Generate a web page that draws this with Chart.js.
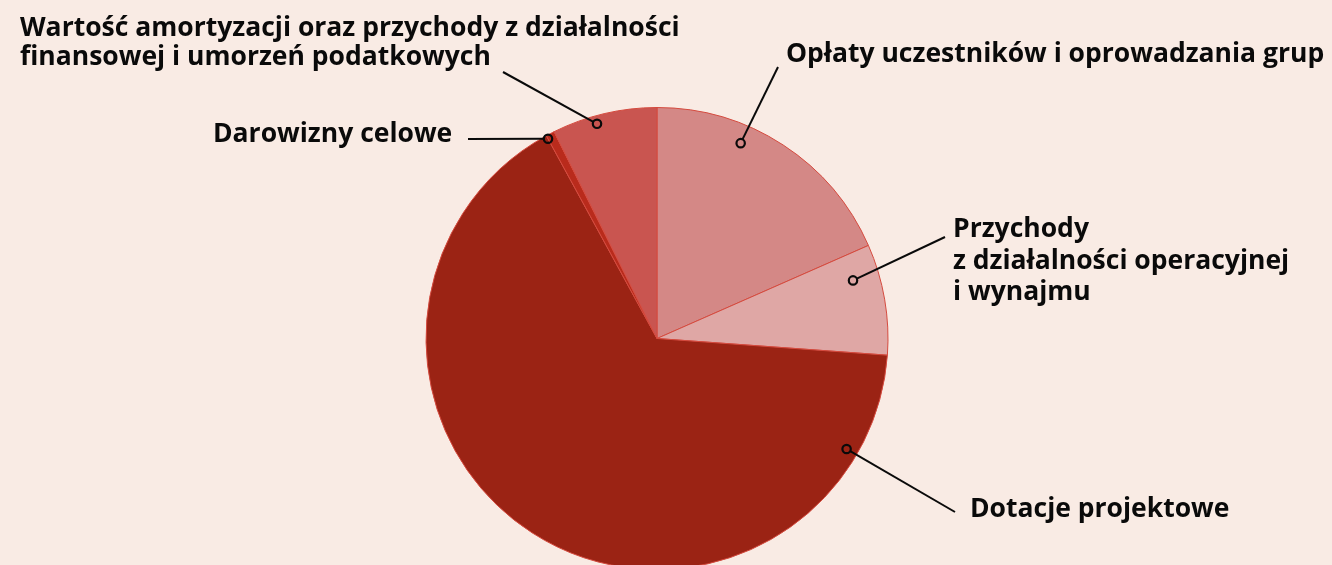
<!DOCTYPE html>
<html>
<head>
<meta charset="utf-8">
<script src="https://cdn.jsdelivr.net/npm/chart.js@4/dist/chart.umd.min.js"></script>
<style>
  html, body { margin: 0; padding: 0; background: #f9ebe4; overflow: hidden; width: 1332px; height: 565px; }
  #wrap { position: absolute; left: 0; top: 0; width: 1332px; height: 620px; }
</style>
</head>
<body>
<div id="wrap"><canvas id="c"></canvas></div>
<script>
// Data
const categories = [
  "Opłaty uczestników i oprowadzania grup",
  "Przychody z działalności operacyjnej i wynajmu",
  "Dotacje projektowe",
  "Darowizny celowe",
  "Wartość amortyzacji oraz przychody z działalności finansowej i umorzeń podatkowych"
];
const values = [18.4, 7.75, 65.9, 0.6, 7.35];
const colors = ["#d48886", "#dfa7a5", "#9b2314", "#b92b1c", "#c95550"];

// Label display text (lines)
const labelLines = [
  ["Opłaty uczestników i oprowadzania grup"],
  ["Przychody", "z działalności operacyjnej", "i wynajmu"],
  ["Dotacje projektowe"],
  ["Darowizny celowe"],
  ["Wartość amortyzacji oraz przychody z działalności", "finansowej i umorzeń podatkowych"]
];

// Layout for callouts: anchor fraction along slice angle, radius fraction, line end, text position
const callouts = [
  { t: 0.35, r: 0.92, lineEnd: [778, 67], text: [786, 62], lh: 30 },
  { t: 0.26, r: 0.885, lineEnd: [945, 237], text: [953, 237], lh: 31.5 },
  { t: 0.11, r: 0.95, lineEnd: [955, 512], text: [970, 517], lh: 30 },
  { t: 0.0, r: 0.985, lineEnd: [468, 139], text: [213, 142], lh: 30 },
  { t: 0.41, r: 0.965, lineEnd: [503, 72], text: [20, 36], lh: 29 }
];

const calloutPlugin = {
  id: 'callouts',
  afterDatasetsDraw(chart) {
    const ctx = chart.ctx;
    const arcs = chart.getDatasetMeta(0).data;
    ctx.save();
    arcs.forEach((arc, i) => {
      const c = callouts[i];
      const p = arc.getProps(['x', 'y', 'startAngle', 'endAngle', 'outerRadius'], true);
      const a = p.startAngle + c.t * (p.endAngle - p.startAngle);
      const ax = p.x + Math.cos(a) * p.outerRadius * c.r;
      const ay = p.y + Math.sin(a) * p.outerRadius * c.r;
      const dx = c.lineEnd[0] - ax, dy = c.lineEnd[1] - ay;
      const len = Math.hypot(dx, dy);
      const mr = 4.2;
      ctx.strokeStyle = '#0a0a0a';
      ctx.lineWidth = 2;
      ctx.beginPath();
      ctx.moveTo(ax + dx / len * mr, ay + dy / len * mr);
      ctx.lineTo(c.lineEnd[0], c.lineEnd[1]);
      ctx.stroke();
      ctx.lineWidth = 2.2;
      ctx.beginPath();
      ctx.arc(ax, ay, mr, 0, Math.PI * 2);
      ctx.stroke();
      ctx.fillStyle = '#0a0a0a';
      ctx.font = 'bold 26.5px "Open Sans"';
      ctx.textBaseline = 'alphabetic';
      ctx.textAlign = 'left';
      labelLines[i].forEach((ln, k) => {
        ctx.fillText(ln, c.text[0], c.text[1] + k * c.lh);
      });
    });
    ctx.restore();
  }
};

new Chart(document.getElementById('c'), {
  type: 'pie',
  data: {
    labels: categories,
    datasets: [{
      data: values,
      backgroundColor: colors,
      borderColor: '#d44a3e',
      borderWidth: 1
    }]
  },
  options: {
    responsive: true,
    maintainAspectRatio: false,
    animation: false,
    layout: { padding: { top: 107, bottom: 50, left: 0, right: 18 } },
    plugins: { legend: { display: false }, tooltip: { enabled: false } }
  },
  plugins: [calloutPlugin]
});
</script>
</body>
</html>
